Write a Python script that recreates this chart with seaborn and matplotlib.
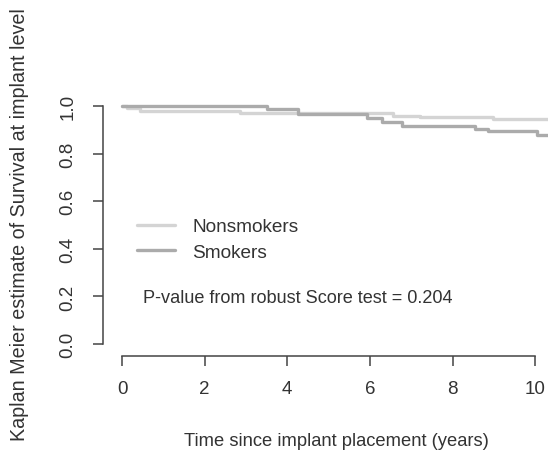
import matplotlib
matplotlib.use("Agg")
import matplotlib.pyplot as plt
import seaborn as sns
import pandas as pd
from matplotlib.lines import Line2D

# Kaplan-Meier step data
non_t = [0.0, 0.12, 0.44, 2.86, 6.56, 7.22, 8.98, 10.31]
non_s = [1.0, 0.99, 0.98, 0.971, 0.959, 0.953, 0.945, 0.945]
smk_t = [0.0, 3.50, 4.26, 5.93, 6.30, 6.78, 8.55, 8.86, 10.05, 10.31]
smk_s = [1.0, 0.987, 0.966, 0.948, 0.932, 0.917, 0.903, 0.894, 0.880, 0.880]
groups = ["Nonsmokers", "Smokers"]
x_ticks = [0, 2, 4, 6, 8, 10]
y_ticks = [0.0, 0.2, 0.4, 0.6, 0.8, 1.0]
y_tick_labels = ["0.0", "0.2", "0.4", "0.6", "0.8", "1.0"]
p_text = "P-value from robust Score test = 0.204"

df = pd.concat([
    pd.DataFrame({"time": non_t, "surv": non_s, "group": groups[0]}),
    pd.DataFrame({"time": smk_t, "surv": smk_s, "group": groups[1]}),
])

sns.set_style("white", {"xtick.bottom": True, "ytick.left": True})
plt.rcParams["font.family"] = ["Liberation Sans", "DejaVu Sans"]

fig = plt.figure(figsize=(5.48, 4.52), dpi=100)
ax = fig.add_axes([103 / 548, 95 / 452, 445 / 548, 269 / 452])

palette = {"Nonsmokers": "#d4d4d4", "Smokers": "#ababab"}
sns.lineplot(data=df, x="time", y="surv", hue="group", palette=palette,
             estimator=None, drawstyle="steps-post", linewidth=2.4, ax=ax,
             legend=False, hue_order=groups)

ax.set_xlim(-0.46, 10.31)
ax.set_ylim(-0.05, 1.08)

for sp in ["top", "right"]:
    ax.spines[sp].set_visible(False)
ax.spines["left"].set_bounds(0, 1)
ax.spines["bottom"].set_bounds(0, 10)
for sp in ["left", "bottom"]:
    ax.spines[sp].set_color("#444444")
    ax.spines[sp].set_linewidth(1.1)

ax.set_xticks(x_ticks)
ax.set_yticks(y_ticks)
ax.set_yticklabels(y_tick_labels, rotation=90, va="center")
ax.tick_params(axis="both", which="major", direction="out", length=7, width=1.1,
               bottom=True, left=True, colors="#444444", labelcolor="#333333",
               labelsize=13.5)
ax.tick_params(axis="x", pad=10)
ax.tick_params(axis="y", pad=12)

ax.set_xlabel("Time since implant placement (years)", fontsize=13.2, color="#333333")
ax.set_ylabel("Kaplan Meier estimate of Survival at implant level", fontsize=14.2,
              color="#333333")
ax.xaxis.set_label_coords((336 - 103) / 445, -(433 - 357) / 269)
ax.yaxis.set_label_coords(-(103 - 29) / 445, (357 - 225) / 269)

handles = [Line2D([], [], color=palette[g], lw=2.4) for g in groups]
leg = ax.legend(handles, groups, loc="upper left", frameon=False,
                bbox_to_anchor=(137 / 548, (452 - 219) / 452),
                bbox_transform=fig.transFigure, fontsize=13.7,
                handlelength=2.0, handletextpad=0.9, labelspacing=0.42,
                borderpad=0, borderaxespad=0)
for t in leg.get_texts():
    t.set_color("#333333")

ax.text(0.51, 0.195, p_text, ha="left", va="center", fontsize=13.1, color="#333333")

fig.savefig("out.png", dpi=100)
